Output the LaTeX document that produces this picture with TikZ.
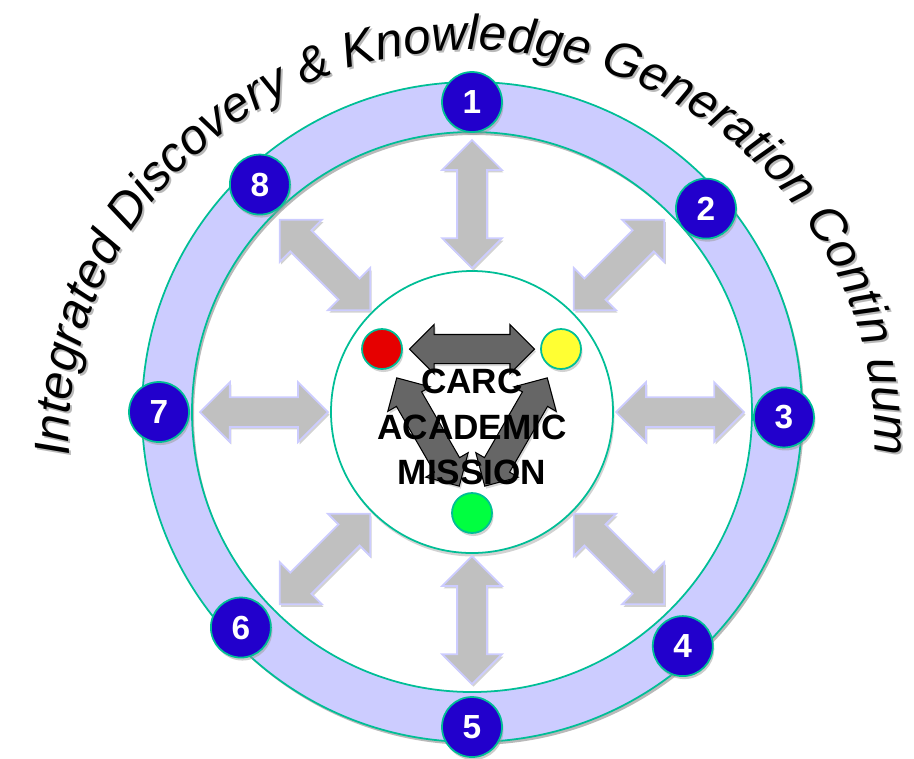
\documentclass[tikz,border=0pt]{standalone}
\usepackage{fontspec}
\setmainfont{Liberation Sans}
\usetikzlibrary{shapes.arrows,shadows,decorations.text}
\definecolor{ringblue}{RGB}{204,204,255}
\definecolor{rimgreen}{RGB}{0,190,150}
\definecolor{numblue}{RGB}{34,0,204}
\definecolor{spokegray}{RGB}{192,192,192}
\definecolor{turngray}{RGB}{102,102,102}
\definecolor{dotred}{RGB}{230,0,0}
\definecolor{dotyellow}{RGB}{255,255,51}
\definecolor{dotgreen}{RGB}{0,255,64}
\begin{document}
\begin{tikzpicture}[
x=0.2mm,y=0.2mm,
numdot/.style={
circle,
fill=numblue,
draw=rimgreen,
line width=1pt,
minimum size=12mm,
inner sep=0pt,
text=white,
font=\bfseries\fontsize{19}{19}\selectfont,
drop shadow={shadow xshift=0.3mm,shadow yshift=-0.6mm,fill=gray!80}
},
spoke/.style={
double arrow,
double arrow head extend=3mm,
minimum width=11.6mm,
minimum height=25.6mm,
inner xsep=0pt,
inner ysep=2.8mm,
fill=spokegray,
draw=ringblue,
line width=1pt,
drop shadow={shadow xshift=0.3mm,shadow yshift=-0.5mm,fill=gray!70}
},
turn/.style={
double arrow,
double arrow head extend=2mm,
minimum width=9.6mm,
minimum height=25mm,
inner xsep=0pt,
inner ysep=2.8mm,
fill=turngray,
draw=black,
line width=0.6pt,
drop shadow={shadow xshift=0.3mm,shadow yshift=-0.5mm,fill=gray!60}
},
dot/.style={
circle,
minimum size=8mm,
inner sep=0pt,
draw=rimgreen,
line width=1pt,
drop shadow={shadow xshift=0.3mm,shadow yshift=-0.6mm,fill=gray!70}
}
]

\useasboundingbox (-472,-346) rectangle (442,412);

\fill[gray!55,even odd rule] (2,-3) circle[radius=330] (2,-3) circle[radius=280];
\filldraw[fill=ringblue,draw=rimgreen,line width=1pt,even odd rule]
(0,0) circle[radius=330] (0,0) circle[radius=280];

\node[circle,fill=white,draw=rimgreen,line width=1pt,minimum size=56.4mm,
drop shadow={shadow xshift=0.3mm,shadow yshift=-0.7mm,fill=gray!70}] (hub) at (0,0) {};

\foreach \a in {90,45,0,-45,-90,-135,180,135}
\node[spoke,rotate=\a] (spoke\a) at (\a:208) {};

\foreach \n/\a/\r in {1/90/310,2/41/310,3/-1/312,4/-48/315,5/-90/315,6/-137/316,7/180/313,8/133/311}
\node[numdot] (n\n) at (\a:\r) {\n};

\node[dot,fill=dotred] (red) at (-90,63) {};
\node[dot,fill=dotyellow] (yellow) at (89,63) {};
\node[dot,fill=dotgreen] (green) at (0,-101) {};

\node[turn,rotate=120] (leftturn) at (-44,-20) {};
\node[turn,rotate=60] (rightturn) at (44,-20) {};
\node[turn] (topturn) at (0,63) {};

\node[align=center,font=\bfseries\fontsize{20}{26}\selectfont] (mission) at (0,-15)
{CARC\\ACADEMIC\\MISSION};

\foreach \dx/\col in {2/gray!55,0/black}
\path[decorate,decoration={text along path,text color=\col,text align=center,
text={|\itshape\fontsize{28}{30}\selectfont|Integrated Discovery {\&} Knowledge Generation Contin uum}}]
([shift={(\dx,-28-\dx)}]186:403 and 390) arc[start angle=186,end angle=-6,x radius=403,y radius=390];

\end{tikzpicture}
\end{document}
